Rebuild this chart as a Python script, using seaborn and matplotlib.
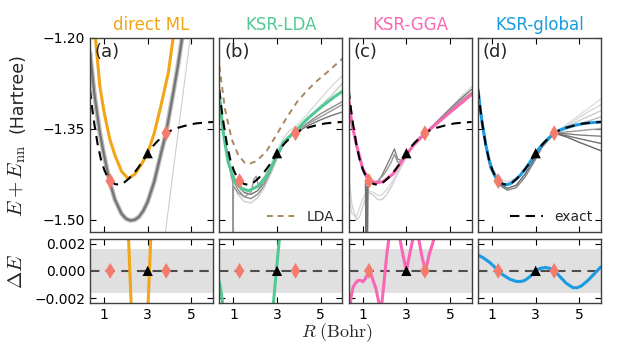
import numpy as np
import pandas as pd
import seaborn as sns
import matplotlib.pyplot as plt

# ---- exact curve and the training / validation points
exact_r = [0.35, 0.45, 0.55, 0.7, 0.85, 1.0, 1.15, 1.3, 1.5, 1.7, 1.9, 2.1, 2.3, 2.5,
           2.7, 2.9, 3.0, 3.2, 3.4, 3.6, 3.85, 4.1, 4.4, 4.8, 5.2, 5.6, 6.0]
exact_e = [-1.285, -1.316, -1.342, -1.375, -1.400, -1.417, -1.429, -1.436, -1.441, -1.442,
           -1.439, -1.433, -1.426, -1.417, -1.407, -1.396, -1.390, -1.380, -1.372, -1.365,
           -1.357, -1.352, -1.348, -1.344, -1.341, -1.3395, -1.3385]
train_r = [1.28, 3.85]
train_e = [-1.436, -1.357]
val_r = [3.0]
val_e = [-1.390]
chem_acc = 0.0016

# ---- (a) direct ML
ml_r = [0.55, 0.6, 0.8, 1.0, 1.26, 1.5, 1.8, 2.1, 2.4, 2.7, 3.0, 3.3, 3.6, 3.95, 4.17, 4.3]
ml_e = [-1.17, -1.20, -1.279, -1.323, -1.367, -1.394, -1.420, -1.432, -1.425, -1.409,
        -1.390, -1.357, -1.313, -1.257, -1.20, -1.16]
gray_a_r = [0.35, 0.55, 0.8, 1.0, 1.26, 1.5, 1.8, 2.0, 2.2, 2.4, 2.6, 2.8, 3.0, 3.3, 3.6,
            3.84, 4.0, 4.2, 4.4, 4.6]
gray_a_e = [-1.224, -1.292, -1.356, -1.394, -1.438, -1.467, -1.490, -1.498, -1.501, -1.500,
            -1.495, -1.485, -1.470, -1.437, -1.392, -1.357, -1.325, -1.285, -1.243, -1.195]
gray_a_out_r = [3.78, 4.95]
gray_a_out_e = [-1.53, -1.20]
ml_de_r = [0.5, 1.5, 2.0, 2.12, 2.18, 2.24, 2.6, 3.02, 3.08, 3.14, 3.5, 5.0]
ml_de = [0.1, 0.05, 0.01, 0.0024, 0.0, -0.0024, -0.012, -0.0024, 0.0, 0.0024, 0.02, 0.2]

# ---- (b) KSR-LDA
ksr_lda_r = [0.35, 0.53, 0.76, 1.07, 1.38, 1.7, 2.15, 2.53, 2.92, 3.3, 3.87, 4.37, 4.99, 5.6, 6.0]
ksr_lda_e = [-1.293, -1.356, -1.405, -1.438, -1.448, -1.452, -1.444, -1.427, -1.400, -1.372,
             -1.353, -1.334, -1.315, -1.298, -1.288]
lda_r = [0.35, 0.61, 0.92, 1.23, 1.53, 1.76, 2.07, 2.53, 2.99, 3.45, 3.91, 4.37, 4.83, 5.45, 6.0]
lda_e = [-1.246, -1.317, -1.367, -1.394, -1.406, -1.407, -1.403, -1.386, -1.359, -1.331,
         -1.306, -1.287, -1.271, -1.252, -1.234]
gray_b_r = [0.35, 0.6, 0.9, 1.2, 1.5, 1.8, 2.1, 2.4, 2.7, 3.0, 3.3, 3.6, 3.9, 4.4, 5.0, 5.5, 6.0]
gray_b_e = [
    [-1.29, -1.37, -1.42, -1.444, -1.455, -1.458, -1.452, -1.44, -1.42, -1.395, -1.372, -1.362,
     -1.356, -1.345, -1.335, -1.328, -1.322],
    [-1.29, -1.37, -1.425, -1.45, -1.462, -1.465, -1.458, -1.445, -1.424, -1.398, -1.375, -1.363,
     -1.355, -1.34, -1.325, -1.315, -1.305],
    [-1.29, -1.372, -1.43, -1.458, -1.47, -1.472, -1.464, -1.448, -1.425, -1.397, -1.372, -1.36,
     -1.352, -1.335, -1.312, -1.295, -1.275],
    [-1.29, -1.368, -1.42, -1.445, -1.452, -1.452, -1.445, -1.43, -1.41, -1.385, -1.365, -1.352,
     -1.345, -1.325, -1.30, -1.28, -1.262],
]
gray_b_shade = ['0.45', '0.55', '0.8', '0.85']
gray_b_odd_r = [0.35, 0.6, 0.9, 0.97, 0.985, 1.0, 1.2, 1.5, 1.8, 1.95, 2.05, 2.15, 2.4, 2.7,
                3.0, 3.3, 3.6, 3.9, 4.4, 5.0, 5.5, 6.0]
gray_b_odd_e = [-1.29, -1.37, -1.425, -1.438, -1.60, -1.445, -1.455, -1.462, -1.455, -1.432,
                -1.428, -1.445, -1.44, -1.42, -1.395, -1.372, -1.36, -1.354, -1.342, -1.33,
                -1.32, -1.31]
lda_de_r = [0.35, 0.45, 0.55, 0.8, 1.5, 2.5, 2.8, 2.97, 3.15, 3.5, 4.5, 6.0]
lda_de = [-0.0008, -0.0017, -0.003, -0.015, -0.009, -0.01, -0.003, 0.0, 0.003, 0.015, 0.03, 0.05]

# ---- (c) KSR-GGA
gga_r = [0.35, 0.5, 0.72, 1.0, 1.3, 1.61, 1.92, 2.38, 2.92, 3.3, 3.87, 4.37, 4.99, 5.6, 6.0]
gga_e = [-1.300, -1.342, -1.378, -1.416, -1.434, -1.439, -1.437, -1.4245, -1.397, -1.378,
         -1.357, -1.342, -1.323, -1.305, -1.293]
gray_c_r = [0.35, 0.5, 0.7, 0.85, 1.0, 1.15, 1.3, 1.5, 1.7, 1.9, 2.1, 2.3, 2.45, 2.6, 2.8,
            3.0, 3.3, 3.6, 3.9, 4.4, 5.0, 5.5, 6.0]
gray_c_e = [
    [-1.46, -1.49, -1.495, -1.48, -1.465, -1.455, -1.452, -1.455, -1.46, -1.458, -1.45, -1.44,
     -1.43, -1.42, -1.41, -1.395, -1.376, -1.364, -1.356, -1.338, -1.316, -1.297, -1.28],
    [-1.43, -1.475, -1.50, -1.495, -1.478, -1.462, -1.455, -1.46, -1.467, -1.466, -1.458, -1.446,
     -1.435, -1.424, -1.41, -1.396, -1.377, -1.365, -1.357, -1.34, -1.318, -1.30, -1.284],
    [-1.305, -1.345, -1.378, -1.40, -1.418, -1.43, -1.437, -1.44, -1.437, -1.425, -1.41, -1.395,
     -1.383, -1.40, -1.402, -1.392, -1.376, -1.364, -1.355, -1.338, -1.317, -1.30, -1.285],
    [-1.305, -1.345, -1.378, -1.40, -1.418, -1.43, -1.437, -1.44, -1.435, -1.428, -1.418, -1.405,
     -1.392, -1.405, -1.404, -1.393, -1.377, -1.365, -1.356, -1.34, -1.32, -1.303, -1.29],
]
gray_c_shade = ['0.85', '0.82', '0.5', '0.6']
gray_c_spike_r = [1.12, 1.15, 1.18, 1.21, 1.24]
gray_c_spike_e = [-1.44, -1.56, -1.445, -1.56, -1.44]
gga_de_r = [0.35, 0.46, 0.55, 0.66, 0.78, 0.9, 1.0, 1.1, 1.2, 1.32, 1.45, 1.6, 1.72, 1.8,
            1.85, 1.95, 2.1, 2.25, 2.45, 2.68, 2.85, 3.0, 3.15, 3.32, 3.45, 3.55, 3.72, 3.88,
            4.05, 4.3, 4.6, 5.0, 6.0]
gga_de = [-0.0035, -0.0019, -0.0012, -0.0009, -0.0007, -0.0007, -0.0008, -0.0006, -0.0003,
          0.0, -0.0006, -0.0013, -0.0022, -0.0028, -0.0027, -0.0012, 0.0012, 0.003, 0.006,
          0.0025, 0.0011, 0.0, 0.0012, 0.0025, 0.004, 0.0025, 0.001, 0.0, 0.0012, 0.0025,
          0.006, 0.01, 0.02]

# ---- (d) KSR-global
glob_r = exact_r
glob_e = exact_e
gray_d_r = [0.35, 0.6, 0.9, 1.3, 1.7, 2.1, 2.5, 2.9, 3.3, 3.87]
gray_d_e = [
    [-1.285, -1.35, -1.412, -1.44, -1.448, -1.443, -1.425, -1.402, -1.378, -1.357],
    [-1.285, -1.351, -1.414, -1.442, -1.451, -1.447, -1.430, -1.406, -1.380, -1.357],
    [-1.285, -1.348, -1.408, -1.432, -1.437, -1.432, -1.418, -1.398, -1.375, -1.357],
]
gray_d_shade = ['0.4', '0.5', '0.85']
fan_r = [3.87, 4.4, 5.0, 5.5, 6.0]
fan_e = [
    [-1.357, -1.343, -1.327, -1.314, -1.300],
    [-1.357, -1.345, -1.331, -1.320, -1.310],
    [-1.357, -1.347, -1.336, -1.328, -1.320],
    [-1.357, -1.350, -1.342, -1.336, -1.330],
    [-1.357, -1.355, -1.353, -1.351, -1.350],
    [-1.357, -1.358, -1.360, -1.361, -1.362],
    [-1.357, -1.361, -1.366, -1.370, -1.374],
    [-1.357, -1.363, -1.372, -1.379, -1.386],
]
fan_shade = ['0.88', '0.85', '0.8', '0.75', '0.6', '0.5', '0.45', '0.4']
glob_de_r = [0.35, 0.6, 0.9, 1.1, 1.28, 1.5, 1.8, 2.1, 2.3, 2.5, 2.75, 3.0, 3.2, 3.45, 3.65,
             3.88, 4.1, 4.4, 4.7, 4.9, 5.1, 5.4, 5.7, 6.0]
glob_de = [0.00115, 0.00095, 0.0006, 0.0003, 0.0, -0.0003, -0.0006, -0.00077, -0.00078,
           -0.0007, -0.0004, 0.0, 0.00018, 0.00025, 0.00018, 0.0, -0.0004, -0.0009, -0.00122,
           -0.00124, -0.0011, -0.0007, -0.0002, 0.0003]

titles = ['direct ML', 'KSR-LDA', 'KSR-GGA', 'KSR-global']
letters = ['(a)', '(b)', '(c)', '(d)']
colors = ['#F2A516', '#52C894', '#FA66B4', '#1C9BE0']
marker_color = '#F47C6C'

sns.set_style('ticks')
plt.rcParams['mathtext.fontset'] = 'cm'
plt.rcParams['font.family'] = ['DejaVu Sans']

fig = plt.figure(figsize=(6.3, 3.64), dpi=100)
W, H = 630, 364
lefts = [90, 219.3, 348.7, 478]
top_axes, bot_axes = [], []
for lx in lefts:
    top_axes.append(fig.add_axes([lx / W, 1 - 232 / H, 123 / W, 194 / H]))
    bot_axes.append(fig.add_axes([lx / W, 1 - 303 / H, 123 / W, 64 / H]))


def line(ax, x, y, **kw):
    sns.lineplot(x=x, y=y, ax=ax, estimator=None, sort=False, legend=False, **kw)


# grays
ax = top_axes[0]
line(ax, gray_a_r, gray_a_e, color='0.75', lw=3.4)
line(ax, gray_a_r, gray_a_e, color='0.45', lw=1.6)
line(ax, gray_a_out_r, gray_a_out_e, color='0.8', lw=0.8)

ax = top_axes[1]
for ys, c in zip(gray_b_e, gray_b_shade):
    line(ax, gray_b_r, ys, color=c, lw=1)
line(ax, gray_b_odd_r, gray_b_odd_e, color='0.6', lw=1)
line(ax, lda_r, lda_e, color='#A8865E', lw=1.4, linestyle=(0, (3, 2.5)), label='LDA')

ax = top_axes[2]
for ys, c in zip(gray_c_e, gray_c_shade):
    line(ax, gray_c_r, ys, color=c, lw=1)
line(ax, gray_c_spike_r, gray_c_spike_e, color='0.45', lw=1)

ax = top_axes[3]
for ys, c in zip(gray_d_e, gray_d_shade):
    line(ax, gray_d_r, ys, color=c, lw=1)
for ys, c in zip(fan_e, fan_shade):
    line(ax, fan_r, ys, color=c, lw=1)

# colored predictions
pred = [(ml_r, ml_e), (ksr_lda_r, ksr_lda_e), (gga_r, gga_e), (glob_r, glob_e)]
dE = [(ml_de_r, ml_de), (lda_de_r, lda_de), (gga_de_r, gga_de), (glob_de_r, glob_de)]

for i in range(4):
    ax = top_axes[i]
    line(ax, pred[i][0], pred[i][1], color=colors[i], lw=2.2)
    line(ax, exact_r, exact_e, color='k', lw=1.5, linestyle=(0, (4.5, 3)),
         label='exact' if i == 3 else None)
    sns.scatterplot(x=train_r, y=train_e, ax=ax, marker='d', s=65, color=marker_color,
                    edgecolor='none', zorder=5)
    sns.scatterplot(x=val_r, y=val_e, ax=ax, marker='^', s=55, color='k',
                    edgecolor='none', zorder=5)
    ax.set_xlim(0.35, 6.0)
    ax.set_ylim(-1.52, -1.20)
    ax.set_yticks([-1.50, -1.35, -1.20])
    ax.set_xticks([1, 3, 5])
    ax.set_xticklabels([])
    ax.set_title(titles[i], color=colors[i], fontsize=12, pad=6)
    ax.text(0.04, 0.975, letters[i], transform=ax.transAxes, va='top', ha='left', fontsize=13)

    bx = bot_axes[i]
    bx.axhspan(-chem_acc, chem_acc, color='0.88', lw=0)
    bx.axhline(0, color='0.3', lw=1.5, linestyle=(0, (4.5, 3)))
    line(bx, dE[i][0], dE[i][1], color=colors[i], lw=2.2)
    sns.scatterplot(x=train_r, y=[0, 0], ax=bx, marker='d', s=65, color=marker_color,
                    edgecolor='none', zorder=5)
    sns.scatterplot(x=val_r, y=[0], ax=bx, marker='^', s=55, color='k',
                    edgecolor='none', zorder=5)
    bx.set_xlim(0.35, 6.0)
    bx.set_ylim(-0.00235, 0.00233)
    bx.set_yticks([-0.002, 0.0, 0.002])
    bx.set_xticks([1, 3, 5])

    for a in (ax, bx):
        a.tick_params(direction='in', top=True, right=True, length=4, width=0.8,
                      labelsize=10, colors='k')
        for s in a.spines.values():
            s.set_color('0.25')
            s.set_linewidth(1.0)
        a.set_xlabel('')
        a.set_ylabel('')
    if i > 0:
        ax.set_yticklabels([])
        bx.set_yticklabels([])

top_axes[1].legend(loc='lower right', frameon=False, fontsize=10, handlelength=2.0,
                   borderaxespad=0.2)
top_axes[3].legend(loc='lower right', frameon=False, fontsize=10, handlelength=2.4,
                   borderaxespad=0.2)

top_axes[0].set_yticklabels(['\u22121.50', '\u22121.35', '\u22121.20'])
bot_axes[0].set_yticklabels(['\u22120.002', '0.000', '0.002'])

# y labels: math part larger than the unit text, as in the reference
fig.text(17 / W, 1 - 181 / H, r'$E+E_{\mathrm{nn}}$', rotation=90, ha='center', va='center',
         fontsize=15)
fig.text(17 / W, 1 - 93 / H, '(Hartree)', rotation=90, ha='center', va='center',
         fontsize=12.5)
fig.text(16 / W, 1 - 271 / H, r'$\Delta E$', rotation=90, ha='center', va='center',
         fontsize=15)
fig.text(337 / W, 1 - 333 / H, r'$R\ (\mathrm{Bohr})$', ha='center', va='center', fontsize=13)

fig.savefig('out.png', dpi=100)
